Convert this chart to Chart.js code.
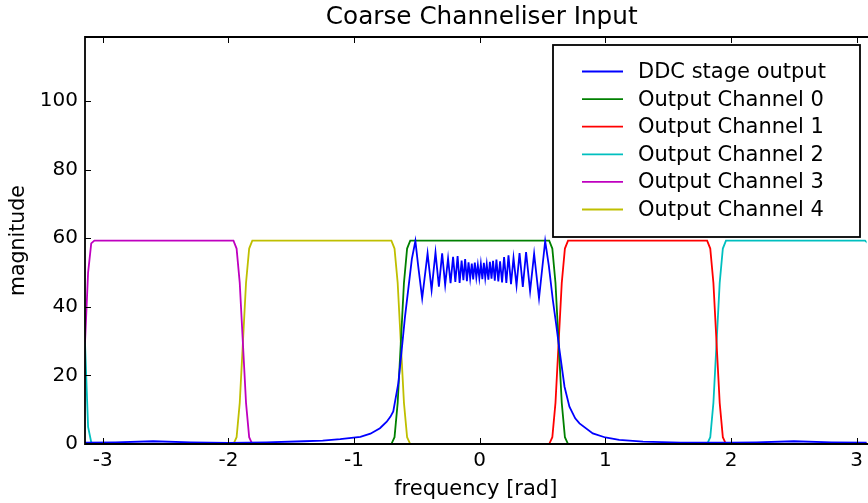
<!DOCTYPE html>
<html>
<head>
<meta charset="utf-8">
<script src="https://cdn.jsdelivr.net/npm/chart.js@4.4.0/dist/chart.umd.min.js"></script>
<style>
  html, body { margin: 0; padding: 0; background: #ffffff; }
  #wrap { width: 868px; height: 503px; }
</style>
</head>
<body>
<div id="wrap"><canvas id="chart" width="868" height="503"></canvas></div>
<script>
var x_ticks = [-3, -2, -1, 0, 1, 2, 3];
var y_ticks = [0, 20, 40, 60, 80, 100];

var series_labels = ["DDC stage output", "Output Channel 0", "Output Channel 1",
                     "Output Channel 2", "Output Channel 3", "Output Channel 4"];
var series_colors = ["#0000ff", "#008000", "#ff0000", "#00bfbf", "#bf00bf", "#bfbf00"];

// DDC stage output (blue): left skirt, passband ripple, right skirt
var ddc_x = [-3.1416, -2.9, -2.6, -2.3, -2.0, -1.7, -1.4, -1.25, -1.11, -0.95, -0.87, -0.794, -0.74, -0.71, -0.688,
  -0.648, -0.621, -0.595, -0.569, -0.54, -0.512, -0.49, -0.458,
  -0.415, -0.383, -0.352, -0.325, -0.299, -0.275, -0.252, -0.232, -0.212, -0.194,
  -0.176, -0.160, -0.144, -0.130, -0.116, -0.102, -0.089, -0.076, -0.063, -0.052,
  -0.039, -0.027, -0.015, -0.003, 0.009, 0.021, 0.033, 0.044, 0.056, 0.069,
  0.081, 0.094, 0.106, 0.120, 0.133, 0.148, 0.162, 0.178, 0.194, 0.212,
  0.229, 0.249, 0.269, 0.293, 0.317, 0.343, 0.369, 0.401, 0.433,
  0.472, 0.521, 0.55, 0.582, 0.608, 0.635, 0.675, 0.714, 0.76, 0.794, 0.9, 1.0, 1.11, 1.3, 1.6, 2.0, 2.2,
  2.5, 2.8, 3.1416];
var ddc_y = [0.4, 0.5, 0.8, 0.5, 0.3, 0.5, 0.8, 1.0, 1.4, 2.1, 3.0, 4.6, 6.5, 8, 9.5,
  17.7, 27.4, 37, 45, 54, 59.2, 52, 42.5,
  55.6, 44.9, 55.9, 45.9, 55.6, 46.4, 54.1, 46.9, 54.6, 47.3,
  54.8, 47.0, 53.5, 47.8, 53.9, 47.5, 53.0, 48.3, 52.6, 48.0,
  52.9, 48.6, 52.2, 48.4, 52.5, 48.1, 52.8, 48.5, 52.4, 47.9,
  53.1, 48.2, 53.4, 47.6, 53.8, 47.4, 53.3, 47.1, 54.5, 47.0,
  55.0, 46.6, 54.3, 46.2, 55.7, 45.8, 56.0, 44.6, 55.5,
  42.5, 59.2, 52, 42, 35, 27.4, 16.7, 10.9, 7.5, 6, 3.1, 1.9, 1.2, 0.7, 0.4, 0.4, 0.5,
  0.8, 0.5, 0.4];

// Output channel 0 (green)
var ch0_x = [-3.1416, -0.703, -0.678, -0.653, -0.628, -0.603, -0.578, -0.553, 0.553, 0.578, 0.603, 0.628, 0.653, 0.678, 0.703, 3.1416];
var ch0_y = [0, 0, 2, 12, 29.5, 47, 57, 59.3, 59.3, 57, 47, 29.5, 12, 2, 0, 0];

// Output channel 1 (red)
var ch1_x = [-3.1416, 0.553, 0.578, 0.603, 0.628, 0.653, 0.678, 0.703, 1.810, 1.835, 1.860, 1.885, 1.910, 1.935, 1.960, 3.1416];
var ch1_y = [0, 0, 2, 12, 29.5, 47, 57, 59.3, 59.3, 57, 47, 29.5, 12, 2, 0, 0];

// Output channel 2 (cyan), wraps round at +/- pi
var ch2_x = [-3.1416, -3.117, -3.092, -3.067, 1.810, 1.835, 1.860, 1.885, 1.910, 1.935, 1.960, 3.067, 3.092, 3.117, 3.1416];
var ch2_y = [29.5, 5, 0.5, 0, 0, 2, 12, 29.5, 47, 57, 59.3, 59.3, 58.5, 50, 29.5];

// Output channel 3 (magenta), wraps round at +/- pi
var ch3_x = [-3.1416, -3.117, -3.092, -3.067, -1.960, -1.935, -1.910, -1.885, -1.860, -1.835, -1.810, 3.067, 3.092, 3.117, 3.1416];
var ch3_y = [29.5, 50, 58.5, 59.3, 59.3, 57, 47, 29.5, 12, 2, 0, 0, 0.5, 5, 29.5];

// Output channel 4 (yellow)
var ch4_x = [-3.1416, -1.960, -1.935, -1.910, -1.885, -1.860, -1.835, -1.810, -0.703, -0.678, -0.653, -0.628, -0.603, -0.578, -0.553, 3.1416];
var ch4_y = [0, 0, 2, 12, 29.5, 47, 57, 59.3, 59.3, 57, 47, 29.5, 12, 2, 0, 0];

var font_family = "'DejaVu Sans', sans-serif";

var to_points = function(xs, ys) {
  let points = [];
  for (let i = 0; i < xs.length; i++) {
    points.push({x: xs[i], y: ys[i]});
  }
  return points;
};

var all_series = [[ddc_x, ddc_y], [ch0_x, ch0_y], [ch1_x, ch1_y], [ch2_x, ch2_y], [ch3_x, ch3_y], [ch4_x, ch4_y]];
var datasets = [];
for (let i = 0; i < all_series.length; i++) {
  datasets.push({
    label: series_labels[i],
    data: to_points(all_series[i][0], all_series[i][1]),
    borderColor: series_colors[i],
    backgroundColor: series_colors[i],
    borderWidth: 1.8,
    pointRadius: 0,
    tension: 0,
    fill: false
  });
}

// matplotlib-like frame: ticks pointing inwards, legend box, title.
// The original figure is cut off on the right, so no right-hand border is drawn.
var frame_plugin = {
  id: "frame",
  afterDatasetsDraw: function(chart) {
    const ctx = chart.ctx;
    const area = chart.chartArea;
    const xs = chart.scales.x;
    const ys = chart.scales.y;
    const tick_len = 6;

    ctx.save();
    ctx.strokeStyle = "#000000";
    ctx.lineWidth = 1;
    ctx.beginPath();
    for (let i = 0; i < x_ticks.length; i++) {
      let px = Math.round(xs.getPixelForValue(x_ticks[i])) + 0.5;
      ctx.moveTo(px, area.bottom);
      ctx.lineTo(px, area.bottom - tick_len);
      ctx.moveTo(px, area.top);
      ctx.lineTo(px, area.top + tick_len);
    }
    for (let i = 0; i < y_ticks.length; i++) {
      let py = Math.round(ys.getPixelForValue(y_ticks[i])) + 0.5;
      ctx.moveTo(area.left, py);
      ctx.lineTo(area.left + tick_len, py);
    }
    ctx.stroke();

    ctx.lineWidth = 1.8;
    ctx.beginPath();
    ctx.moveTo(area.right + 10, area.top);
    ctx.lineTo(area.left, area.top);
    ctx.lineTo(area.left, area.bottom);
    ctx.lineTo(area.right + 10, area.bottom);
    ctx.stroke();

    // legend
    const box_left = 553;
    const box_top = area.top + 8;
    const box_w = 307;
    const box_h = 192;
    ctx.fillStyle = "#ffffff";
    ctx.fillRect(box_left, box_top, box_w, box_h);
    ctx.lineWidth = 1.8;
    ctx.strokeRect(box_left, box_top, box_w, box_h);

    ctx.font = "21px " + font_family;
    ctx.textBaseline = "middle";
    ctx.textAlign = "left";
    for (let i = 0; i < chart.data.datasets.length; i++) {
      let ds = chart.data.datasets[i];
      let row_y = box_top + 26.5 + i * 27.6;
      ctx.strokeStyle = ds.borderColor;
      ctx.lineWidth = 1.8;
      ctx.beginPath();
      ctx.moveTo(box_left + 29, row_y);
      ctx.lineTo(box_left + 70, row_y);
      ctx.stroke();
      ctx.fillStyle = "#000000";
      ctx.fillText(ds.label, box_left + 85, row_y + 1);
    }

    // title, centred over the full axes (which run on to +pi past the edge)
    ctx.font = "24.7px " + font_family;
    ctx.textAlign = "center";
    ctx.textBaseline = "middle";
    ctx.fillText("Coarse Channeliser Input", xs.getPixelForValue(0) + 2, 18);
    ctx.restore();
  }
};

var chart = new Chart("chart", {
  type: "line",
  data: { datasets: datasets },
  options: {
    responsive: false,
    animation: false,
    layout: { padding: { top: 37, left: 0, right: 0, bottom: 0 } },
    plugins: {
      legend: { display: false },
      tooltip: { enabled: false },
      title: { display: false }
    },
    scales: {
      x: {
        type: "linear",
        min: -Math.PI,
        max: 3.079,
        grid: { display: false, drawTicks: false },
        border: { display: false },
        afterBuildTicks: function(scale) {
          scale.ticks = x_ticks.map(v => ({ value: v }));
        },
        afterFit: function(scale) { scale.height = 59; },
        ticks: {
          color: "#000000",
          font: { family: font_family, size: 20 },
          padding: 5,
          maxRotation: 0,
          autoSkip: false,
          callback: function(v) { return String(v); }
        },
        title: {
          display: true,
          text: "frequency [rad]",
          color: "#000000",
          font: { family: font_family, size: 21 },
          padding: { top: 0, bottom: 1 }
        }
      },
      y: {
        type: "linear",
        min: 0,
        max: 118.7,
        grid: { display: false, drawTicks: false },
        border: { display: false },
        afterBuildTicks: function(scale) {
          scale.ticks = y_ticks.map(v => ({ value: v }));
        },
        afterFit: function(scale) { scale.width = 85; },
        ticks: {
          color: "#000000",
          font: { family: font_family, size: 20 },
          padding: 7,
          autoSkip: false,
          callback: function(v) { return String(v); }
        },
        title: {
          display: true,
          text: "magnitude",
          color: "#000000",
          font: { family: font_family, size: 20.5 },
          padding: { top: 6, bottom: 0 }
        }
      }
    }
  },
  plugins: [frame_plugin]
});
</script>
</body>
</html>
